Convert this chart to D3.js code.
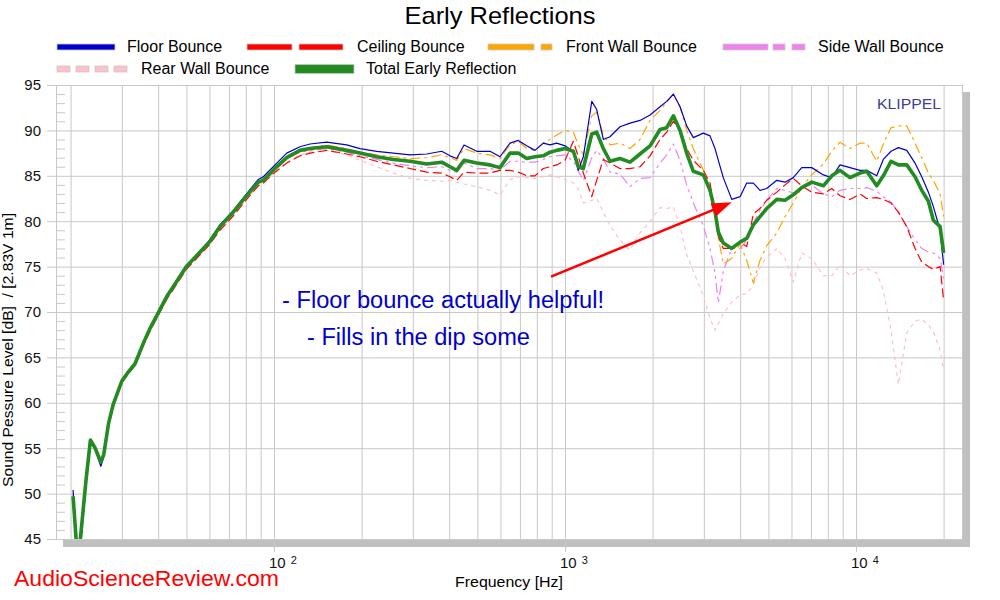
<!DOCTYPE html>
<html><head><meta charset="utf-8">
<script src="https://cdn.jsdelivr.net/npm/d3@7"></script>
<style>
body{margin:0;background:#fff}
svg{display:block}
text{font-family:"Liberation Sans",Arial,sans-serif}
</style>
</head><body>
<svg id="chart" width="1000" height="600"></svg>
<script>
// ---------------- DATA ----------------
const freqs = [20.4, 21.0, 21.5, 22.6, 23.4, 24.3, 25.4, 26.0, 27.0, 28.0,
  30, 31.6, 33.3, 35.6, 37.5, 40, 42.8, 45.1, 50, 55.7,
  60, 65.2, 72.5, 80, 88.3, 91.9, 100, 110.6, 122.8,
  133, 151.7, 177.8, 197.5, 225.4, 257, 293.4, 334.8, 377, 402.5,
  424.5, 449.8, 497.4, 552.5, 598, 647.1, 691, 738.7, 788.6, 842.1,
  888.3, 936.6, 1000, 1068, 1111, 1156, 1236, 1285, 1354, 1428,
  1545, 1673, 1810, 1960, 2121, 2236, 2357, 2485, 2619, 2760,
  2988, 3150, 3277, 3364, 3499, 3741, 3995, 4211, 4438, 4679,
  4933, 5341, 5702, 6088, 6507, 7046, 7722, 8251, 8810, 9537,
  10320, 10884, 11780, 12410, 13195, 13980, 14940, 15950, 16820, 17730,
  18440, 19450, 20000];

const floorBounce = [50.4, 43.0, 43.0, 51.0, 55.8, 54.8, 53.0, 54.0, 57.6, 59.8,
  62.5, 63.5, 64.4, 66.7, 68.3, 70.0, 71.8, 72.9, 75.1, 76.7,
  77.9, 79.6, 81.2, 82.9, 84.6, 84.9, 86.1, 87.5, 88.2,
  88.5, 88.7, 88.4, 88.0, 87.7, 87.5, 87.3, 87.4, 87.7, 87.2,
  86.9, 88.4, 87.7, 87.7, 87.1, 88.6, 88.9, 88.3, 87.8, 88.6,
  88.4, 88.6, 88.3, 87.7, 85.6, 87.1, 93.2, 92.3, 89.0, 89.3,
  90.4, 90.8, 91.1, 91.7, 92.6, 93.2, 94.0, 92.6, 90.5, 89.2,
  89.7, 89.4, 88.0, 86.7, 84.8, 82.4, 82.7, 84.2, 84.2, 83.4,
  83.6, 84.5, 84.3, 84.8, 85.9, 85.9, 85.1, 84.8, 86.2, 85.9,
  85.6, 85.6, 85.0, 86.8, 87.7, 88.1, 87.8, 86.4, 84.9, 83.2,
  81.6, 79.0, 75.2];

const ceilingBounce = [49.5, 43.5, 44.0, 51.3, 55.7, 54.9, 53.4, 54.2, 57.4, 59.5,
  62.2, 63.2, 64.1, 66.3, 67.9, 69.6, 71.4, 72.5, 74.7, 76.3,
  77.4, 79.0, 80.6, 82.3, 83.9, 84.2, 85.3, 86.4, 87.2,
  87.5, 87.8, 87.4, 87.1, 86.6, 86.2, 85.8, 85.4, 85.3, 84.9,
  84.5, 85.4, 85.3, 85.3, 85.6, 85.6, 85.4, 85.0, 85.0, 85.8,
  86.0, 86.2, 86.7, 88.8, 87.1, 85.3, 82.7, 84.5, 86.8, 86.4,
  85.8, 85.8, 86.0, 87.2, 89.0, 89.8, 91.0, 90.0, 88.0, 86.7,
  85.6, 84.2, 80.9, 78.3, 77.0, 77.0, 77.7, 77.2, 80.8, 81.4,
  82.3, 83.2, 84.0, 84.7, 83.9, 83.2, 83.0, 83.6, 82.8, 82.4,
  83.0, 82.5, 82.6, 82.4, 82.0, 81.0, 79.4, 77.0, 75.5, 75.0,
  74.7, 75.0, 71.3];

const frontWallBounce = [49.9, 43.5, 43.5, 51.5, 55.9, 55.0, 53.4, 54.2, 57.7, 59.8,
  62.5, 63.4, 64.4, 66.7, 68.3, 70.0, 71.8, 72.9, 75.1, 76.7,
  77.8, 79.5, 81.1, 82.8, 84.4, 84.7, 85.9, 87.2, 87.9,
  88.1, 88.4, 88.0, 87.6, 87.3, 87.1, 86.9, 87.0, 87.3, 87.0,
  86.7, 88.0, 87.5, 87.3, 86.9, 88.4, 88.8, 88.0, 87.8, 88.6,
  89.0, 89.5, 90.0, 89.8, 88.4, 87.3, 91.6, 92.0, 89.5, 88.4,
  88.6, 88.0, 89.0, 91.1, 92.2, 93.1, 94.0, 92.6, 90.0, 88.0,
  85.6, 83.6, 80.4, 78.2, 75.3, 75.9, 77.5, 75.7, 73.2, 75.7,
  77.3, 78.7, 80.5, 82.0, 83.7, 85.1, 86.3, 87.7, 88.7, 88.0,
  88.6, 88.6, 86.6, 88.5, 90.3, 90.5, 90.5, 88.6, 87.0, 85.3,
  84.5, 83.0, 80.5];

const sideWallBounce = [49.6, 43.5, 44.0, 51.4, 55.8, 55.0, 53.5, 54.3, 57.6, 59.7,
  62.3, 63.3, 64.2, 66.5, 68.1, 69.8, 71.6, 72.7, 74.9, 76.5,
  77.6, 79.3, 80.9, 82.6, 84.2, 84.4, 85.6, 86.9, 87.6,
  87.8, 88.0, 87.6, 87.2, 86.8, 86.4, 86.1, 85.9, 86.0, 85.6,
  85.4, 86.4, 85.8, 85.8, 85.6, 86.6, 86.6, 86.5, 86.5, 86.8,
  87.1, 87.2, 87.3, 86.6, 85.5, 84.5, 87.0, 87.8, 86.9, 85.4,
  85.2, 83.8, 84.7, 84.8, 86.4, 87.3, 88.5, 86.7, 84.0, 82.0,
  79.5, 77.0, 74.3, 71.0, 74.5, 77.0, 77.0, 77.9, 79.8, 81.2,
  82.3, 83.6, 83.4, 83.1, 83.7, 84.0, 83.0, 82.7, 83.4, 83.6,
  83.6, 83.7, 83.3, 82.7, 82.1, 81.0, 79.4, 78.0, 77.0, 76.6,
  76.5, 75.9, 73.7];

const rearWallBounce = [49.5, 43.5, 44.0, 51.3, 55.7, 54.9, 53.4, 54.2, 57.4, 59.5,
  62.2, 63.2, 64.1, 66.3, 67.9, 69.6, 71.4, 72.5, 74.7, 76.3,
  77.4, 79.0, 80.6, 82.3, 83.9, 84.2, 85.3, 86.5, 87.3,
  87.6, 87.8, 87.3, 86.7, 86.0, 85.3, 84.7, 84.5, 84.4, 84.5,
  84.3, 84.1, 83.8, 83.4, 82.9, 84.6, 84.9, 84.8, 84.7, 84.9,
  85.1, 84.9, 84.6, 84.2, 83.5, 82.0, 82.3, 82.5, 81.0, 79.5,
  77.9, 76.8, 78.7, 80.0, 81.5, 81.4, 81.6, 79.4, 76.3, 74.5,
  71.8, 69.3, 68.0, 68.7, 69.8, 71.1, 71.9, 72.0, 73.0, 75.0,
  76.0, 77.0, 75.9, 73.3, 76.5, 75.9, 74.0, 74.0, 75.2, 74.0,
  74.6, 74.8, 74.3, 72.4, 68.0, 62.0, 67.7, 69.0, 69.2, 68.6,
  67.8, 65.8, 63.6];

const totalEarlyReflection = [49.7, 44.0, 44.3, 51.5, 55.9, 55.0, 53.5, 54.3, 57.7, 59.8,
  62.4, 63.4, 64.3, 66.6, 68.2, 69.9, 71.7, 72.8, 75.0, 76.6,
  77.7, 79.4, 81.0, 82.7, 84.3, 84.5, 85.7, 87.0, 87.8,
  88.0, 88.2, 87.8, 87.5, 87.1, 86.8, 86.6, 86.3, 86.5, 86.0,
  85.6, 86.7, 86.4, 86.2, 85.9, 87.5, 87.5, 86.9, 87.1, 87.2,
  87.6, 87.8, 88.0, 87.7, 86.0, 85.8, 89.6, 89.8, 88.0, 86.6,
  86.9, 86.5, 87.4, 88.3, 90.1, 90.3, 91.6, 90.0, 87.5, 85.5,
  85.1, 83.4, 81.1, 78.8, 77.6, 77.0, 77.7, 78.1, 79.6, 80.5,
  81.4, 82.4, 82.3, 82.9, 83.7, 84.3, 83.9, 85.0, 85.6, 84.8,
  85.3, 85.5, 83.9, 85.0, 86.6, 86.2, 86.2, 84.9, 83.4, 82.2,
  80.1, 79.4, 76.5];

const yTickValues = [45, 50, 55, 60, 65, 70, 75, 80, 85, 90, 95];
const gridFreqs = [20, 30, 40, 50, 60, 70, 80, 90,
  100, 200, 300, 400, 500, 600, 700, 800, 900,
  1000, 2000, 3000, 4000, 5000, 6000, 7000, 8000, 9000,
  10000, 20000];
const decadeTicks = [100, 1000, 10000];
const decadeLabels = [["10", "2"], ["10", "3"], ["10", "4"]];

const seriesNames = ["Floor Bounce", "Ceiling Bounce", "Front Wall Bounce",
  "Side Wall Bounce", "Rear Wall Bounce", "Total Early Reflection"];

// ---------------- LAYOUT / STYLE ----------------
const svg = d3.select("#chart");
const m = {left: 56, right: 962, top: 85, bottom: 539};
const x = d3.scaleLog().domain([17.82, 23130]).range([m.left, m.right]);
const y = d3.scaleLinear().domain([45, 95]).range([m.bottom, m.top]);
const gridColor = "#c8c8c8";

const styles = {
  "Floor Bounce": {values: floorBounce, color: "#0000cc", width: 1.2, dash: null},
  "Ceiling Bounce": {values: ceilingBounce, color: "#ff0000", width: 1.2, dash: "9,4"},
  "Front Wall Bounce": {values: frontWallBounce, color: "#ffa500", width: 1.2, dash: "10,4,3,4"},
  "Side Wall Bounce": {values: sideWallBounce, color: "#ee82ee", width: 1.2, dash: "10,4,3,4,3,4"},
  "Rear Wall Bounce": {values: rearWallBounce, color: "#ffc0cb", width: 1.2, dash: "4,4"},
  "Total Early Reflection": {values: totalEarlyReflection, color: "#228b22", width: 3.6, dash: null}
};

// shadow
svg.append("rect").attr("x", 63).attr("y", m.bottom + 0.5).attr("width", 907).attr("height", 7.5).attr("fill", "#c0c0c0");
svg.append("rect").attr("x", m.right + 0.5).attr("y", 92).attr("width", 7.5).attr("height", m.bottom - 92 + 8).attr("fill", "#c0c0c0");
// plot background
svg.append("rect").attr("x", m.left).attr("y", m.top).attr("width", m.right - m.left).attr("height", m.bottom - m.top).attr("fill", "#fff");

// y grid + labels
const gy = svg.append("g").attr("transform", `translate(${m.left - 9},0)`)
  .call(d3.axisLeft(y).tickValues(yTickValues).tickSize(-(m.right - m.left + 9)).tickPadding(6).tickFormat(d3.format("d")));
gy.select(".domain").remove();
gy.selectAll(".tick line").attr("stroke", gridColor);
gy.selectAll(".tick text").attr("font-size", 15).attr("fill", "#111").attr("font-family", '"Liberation Sans",Arial,sans-serif');

// minor y ticks
const gym = svg.append("g").attr("transform", `translate(${m.left},0)`)
  .call(d3.axisRight(y).tickValues(d3.range(46, 95).filter(v => v % 5 !== 0)).tickSize(9).tickFormat(""));
gym.select(".domain").remove();
gym.selectAll(".tick line").attr("stroke", gridColor);

// x grid
const gx = svg.append("g").attr("transform", `translate(0,${m.bottom})`)
  .call(d3.axisBottom(x).tickValues(gridFreqs).tickSize(-(m.bottom - m.top)).tickFormat(""));
gx.select(".domain").remove();
gx.selectAll(".tick line").attr("stroke", gridColor);

// frame
svg.append("rect").attr("x", m.left + 0.5).attr("y", m.top + 0.5).attr("width", m.right - m.left).attr("height", m.bottom - m.top)
  .attr("fill", "none").attr("stroke", gridColor);

// decade ticks with labels
const gd = svg.append("g").attr("transform", `translate(0,${m.bottom})`)
  .call(d3.axisBottom(x).tickValues(decadeTicks).tickSize(13).tickFormat(""));
gd.select(".domain").remove();
gd.selectAll(".tick line").attr("stroke", gridColor);
const lab = svg.append("g").selectAll("text").data(decadeTicks).join("text")
  .attr("x", d => x(d) - 5).attr("y", 567.5).attr("fill", "#111");
lab.append("tspan").attr("font-size", 15).text((d, i) => decadeLabels[i][0]);
lab.append("tspan").attr("font-size", 11).attr("dx", 5).attr("dy", -3.5).text((d, i) => decadeLabels[i][1]);

// data lines
svg.append("clipPath").attr("id", "clip").append("rect")
  .attr("x", m.left).attr("y", m.top).attr("width", m.right - m.left).attr("height", m.bottom - m.top);
const line = d3.line().x((d, i) => x(freqs[i])).y(d => y(d));
const drawOrder = ["Rear Wall Bounce", "Side Wall Bounce", "Front Wall Bounce", "Ceiling Bounce", "Floor Bounce", "Total Early Reflection"];
const gl = svg.append("g").attr("clip-path", "url(#clip)");
drawOrder.forEach(n => {
  const s = styles[n];
  gl.append("path").datum(s.values).attr("d", line)
    .attr("fill", "none").attr("stroke", s.color).attr("stroke-width", s.width)
    .attr("stroke-dasharray", s.dash).attr("stroke-linejoin", "round");
});

// title
svg.append("text").attr("x", 500).attr("y", 24).attr("text-anchor", "middle").attr("font-size", 24).attr("fill", "#000")
  .attr("textLength", 191).attr("lengthAdjust", "spacingAndGlyphs").text("Early Reflections");

// legend
const legend = svg.append("g");
function sw(segs, yc, h, color) {
  segs.forEach(([a, b]) => legend.append("rect").attr("x", a).attr("y", yc - h / 2).attr("width", b - a).attr("height", h)
    .attr("fill", color).attr("stroke", "#c8c8c8").attr("stroke-width", 0.8));
}
const r1 = 47, r2 = 69;
sw([[57, 115]], r1, 6, styles["Floor Bounce"].color);
sw([[247, 292], [299, 343]], r1, 6, styles["Ceiling Bounce"].color);
sw([[488, 534], [541, 552]], r1, 6, styles["Front Wall Bounce"].color);
sw([[723, 768], [773, 785], [792, 805]], r1, 6, styles["Side Wall Bounce"].color);
sw([[57, 70], [76, 89], [95, 108], [114, 127]], r2, 6, styles["Rear Wall Bounce"].color);
sw([[295, 354]], r2, 9, styles["Total Early Reflection"].color);
const legendText = [[127, r1, seriesNames[0]], [357, r1, seriesNames[1]], [566, r1, seriesNames[2]], [818, r1, seriesNames[3]],
  [141, r2, seriesNames[4]], [366, r2, seriesNames[5]]];
legendText.forEach(([lx, ly, t]) => legend.append("text").attr("x", lx).attr("y", ly + 5).attr("font-size", 16).attr("fill", "#000").text(t));

// axis titles
svg.append("text").attr("x", 509).attr("y", 587).attr("text-anchor", "middle").attr("font-size", 15).attr("fill", "#000")
  .attr("textLength", 108).attr("lengthAdjust", "spacingAndGlyphs").text("Frequency [Hz]");
svg.append("text").attr("transform", "translate(13,350) rotate(-90)").attr("text-anchor", "middle").attr("font-size", 14)
  .attr("fill", "#000").style("white-space", "pre").attr("textLength", 274).attr("lengthAdjust", "spacingAndGlyphs")
  .text("Sound Pessure Level [dB]  / [2.83V 1m]");

// KLIPPEL
svg.append("text").attr("x", 941).attr("y", 109).attr("text-anchor", "end").attr("font-size", 15).attr("fill", "#3c3c96")
  .attr("textLength", 64).attr("lengthAdjust", "spacingAndGlyphs").text("KLIPPEL");

// annotations
svg.append("text").attr("x", 282).attr("y", 308).attr("font-size", 23).attr("fill", "#0000cc")
  .attr("font-family", "Lato, 'Open Sans', sans-serif").attr("textLength", 322).attr("lengthAdjust", "spacingAndGlyphs")
  .text("- Floor bounce actually helpful!");
svg.append("text").attr("x", 307).attr("y", 345).attr("font-size", 23).attr("fill", "#0000cc")
  .attr("font-family", "Lato, 'Open Sans', sans-serif").attr("textLength", 223).attr("lengthAdjust", "spacingAndGlyphs")
  .text("- Fills in the dip some");

// arrow
const a0 = [551, 276.7], a1 = [731.7, 202.3];
const ang = Math.atan2(a1[1] - a0[1], a1[0] - a0[0]);
const hl = 20, hw = 7;
const bx = a1[0] - hl * Math.cos(ang), by = a1[1] - hl * Math.sin(ang);
svg.append("line").attr("x1", a0[0]).attr("y1", a0[1]).attr("x2", bx + 2 * Math.cos(ang)).attr("y2", by + 2 * Math.sin(ang))
  .attr("stroke", "#ff0000").attr("stroke-width", 2.5);
svg.append("path").attr("d", d3.line()([a1, [bx - hw * Math.sin(ang), by + hw * Math.cos(ang)], [bx + hw * Math.sin(ang), by - hw * Math.cos(ang)]]) + "Z")
  .attr("fill", "#ff0000");

// watermark
svg.append("text").attr("x", 14).attr("y", 586).attr("font-size", 22).attr("fill", "#ff0000")
  .attr("textLength", 265).attr("lengthAdjust", "spacingAndGlyphs").text("AudioScienceReview.com");
</script>
</body></html>
